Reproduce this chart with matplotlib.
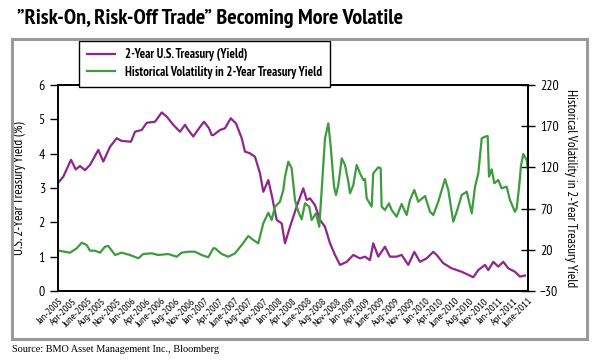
import matplotlib
matplotlib.use("Agg")
from matplotlib import pyplot as plt
from matplotlib.patches import Rectangle
import numpy as np

# months since Jan-2005
yieldMonths = [0.17, 0.88, 2.16, 2.94, 3.65, 4.48, 5.31, 6.69, 7.52, 8.63, 9.74, 10.57, 12.11, 12.78,
               13.89, 14.72, 16.10, 17.21, 18.04, 19.13, 20.25, 21.08, 21.62, 22.45, 23.28, 24.23,
               25.06, 25.51, 25.77, 26.89, 27.71, 28.66, 29.54, 30.49, 31.03, 31.86, 32.69, 33.52,
               34.07, 34.90, 35.46, 36.29, 37.12, 37.67, 38.50, 39.61, 40.71, 41.27, 41.82, 42.65,
               43.48, 44.31, 45.14, 45.97, 46.80, 47.91, 49.01, 50.12, 50.94, 51.77, 52.32, 53.15,
               54.26, 55.09, 56.20, 57.03, 58.13, 59.13, 60.07, 61.18, 62.28, 62.85, 63.94, 65.34,
               67.00, 68.09, 68.92, 69.75, 70.86, 71.41, 72.24, 73.07, 73.90, 74.73, 75.84, 76.67, 77.50]
yieldVals = [3.18, 3.33, 3.82, 3.54, 3.64, 3.52, 3.67, 4.11, 3.77, 4.20, 4.45, 4.37, 4.35, 4.64,
             4.69, 4.90, 4.93, 5.20, 5.08, 4.84, 4.64, 4.84, 4.69, 4.50, 4.71, 4.93,
             4.74, 4.54, 4.54, 4.69, 4.74, 5.03, 4.88, 4.45, 4.06, 4.01, 3.91, 3.43,
             2.89, 3.23, 2.80, 2.07, 1.97, 1.39, 1.87, 2.46, 2.99, 2.65, 2.70, 2.50,
             2.07, 1.87, 1.39, 1.05, 0.76, 0.85, 1.05, 0.95, 1.00, 0.90, 1.39, 1.00,
             1.29, 1.00, 1.00, 1.05, 0.76, 1.14, 0.85, 0.95, 1.14, 1.05, 0.81, 0.66,
             0.56, 0.47, 0.40, 0.61, 0.76, 0.61, 0.85, 0.71, 0.85, 0.66, 0.56, 0.42, 0.45]

volMonths = [0.17, 1.99, 3.10, 3.93, 4.76, 5.31, 6.14, 6.97, 7.80, 8.35, 9.46, 10.57, 11.95, 13.32,
             14.15, 15.55, 16.64, 18.30, 19.69, 20.52, 21.62, 22.73, 23.84, 24.94, 25.77, 26.06,
             27.17, 28.26, 29.37, 30.49, 31.58, 32.41, 33.24, 34.07, 34.90, 35.46, 36.01, 36.84,
             37.39, 37.67, 38.22, 38.78, 39.33, 39.88, 40.44, 40.99, 41.70, 42.10, 42.81, 43.36,
             43.76, 44.31, 44.86, 45.26, 45.81, 46.14, 46.52, 47.09, 47.63, 48.18, 48.46, 49.01,
             49.57, 50.12, 50.67, 50.94, 51.23, 52.05, 52.32, 53.15, 53.55, 53.71, 54.26, 54.93,
             55.37, 56.20, 57.03, 57.86, 58.41, 59.13, 59.79, 60.91, 61.74, 62.28, 63.11, 64.23,
             64.77, 65.60, 66.17, 67.00, 67.83, 68.66, 69.21, 69.75, 70.32, 70.86, 71.31, 71.53,
             71.97, 72.41, 73.07, 73.62, 74.45, 75.00, 75.84, 76.12, 76.50, 76.83, 77.22, 77.78, 77.95]
volVals = [18.9, 16.5, 21.8, 28.6, 25.8, 18.9, 18.9, 16.5, 23.8, 24.6, 13.7, 16.5, 13.7, 9.7,
           14.9, 15.7, 13.7, 14.9, 11.6, 16.5, 17.7, 17.7, 13.7, 10.9, 21.8, 21.8,
           14.9, 11.6, 15.7, 25.8, 36.7, 31.9, 27.9, 52.2, 65.0, 56.2, 72.3, 78.4,
           92.6, 108.7, 126.9, 118.9, 80.4, 66.2, 57.0, 76.4, 72.3, 56.2, 64.3, 48.0,
           92.6, 155.3, 173.4, 145.1, 96.6, 86.5, 98.6, 131.0, 122.9, 102.6, 88.6, 98.6,
           122.9, 112.8, 104.7, 106.0, 82.5, 72.3, 112.8, 120.1, 118.9, 72.3, 68.3, 76.4,
           68.3, 60.2, 75.6, 62.2, 80.4, 92.6, 78.4, 85.3, 66.2, 62.2, 78.4, 105.9,
           92.6, 54.1, 66.2, 86.5, 90.5, 64.3, 96.6, 112.8, 155.3, 157.3, 158.1, 108.7,
           117.7, 100.7, 104.7, 94.6, 96.6, 80.4, 66.2, 70.3, 94.6, 121.7, 136.3, 129.0, 118.9]

tickLabels = []
for yr in range(2005, 2012):
    for mo in ["Jan", "Apr", "June", "Aug", "Nov"]:
        tickLabels.append(mo + "-" + str(yr))
tickLabels = tickLabels[:33]

plt.rcParams['font.family'] = ['PT Sans Narrow', 'DejaVu Sans']

purple = '#8E268E'
green = '#3E9B3E'

fig = plt.figure(figsize=(5.93, 3.63), dpi=100)
fig.patch.set_facecolor('white')

# grey frame round the chart
fig.patches.append(Rectangle((12/593, 1-339/363), 575/593, 300/363, transform=fig.transFigure,
                             fill=False, edgecolor='#9a9a9a', linewidth=2.2))

ax = fig.add_axes([58/593, 1-291/363, 470/593, 206/363])
ax2 = ax.twinx()

l1, = ax.plot(yieldMonths, yieldVals, color=purple, linewidth=1.6)
l2, = ax2.plot(volMonths, volVals, color=green, linewidth=1.6)

ax.set_xlim(0, 78)
ax.set_ylim(0, 6)
ax2.set_ylim(-30, 220)
ax.set_yticks(range(0, 7))
ax2.set_yticks(range(-30, 221, 50))
ax.set_xticks(np.linspace(0, 78, 33))
ax.set_xticklabels(tickLabels, rotation=45, ha='right', rotation_mode='anchor', fontsize=7.5)
ax.tick_params(axis='x', length=0, pad=4)
ax.tick_params(axis='y', direction='out', length=6, labelsize=10, width=1)
ax2.tick_params(axis='y', direction='inout', length=10, labelsize=10, width=1)
for a in (ax, ax2):
    for s in a.spines.values():
        s.set_linewidth(1.2)

ax.set_ylabel("U.S. 2-Year Treasury Yield (%)", fontsize=9.5, labelpad=9)
ax2.set_ylabel("Historical Volatility in 2-Year Treasury Yield", fontsize=9.5, rotation=270, labelpad=13)

leg = ax2.legend([l1, l2], ["2-Year U.S. Treasury (Yield)", "Historical Volatility in 2-Year Treasury Yield"],
                 loc='lower left', bbox_to_anchor=(73/593, 1-93/363), bbox_transform=fig.transFigure,
                 fancybox=False, framealpha=1, edgecolor='black', borderpad=0.6,
                 handlelength=2.2, prop={'weight': 'bold', 'size': 9.2}, labelspacing=0.35)
leg.get_frame().set_linewidth(1.0)

fig.text(17/593, 1-18/363, "\u201dRisk-On, Risk-Off Trade\u201d Becoming More Volatile",
         fontsize=16, fontweight='bold', va='center', ha='left')
fig.text(12/593, 1-349/363, "Source: BMO Asset Management Inc., Bloomberg",
         fontsize=7.4, family=['Liberation Serif', 'DejaVu Serif'], va='center', ha='left')

plt.savefig("out.png", dpi=100)
